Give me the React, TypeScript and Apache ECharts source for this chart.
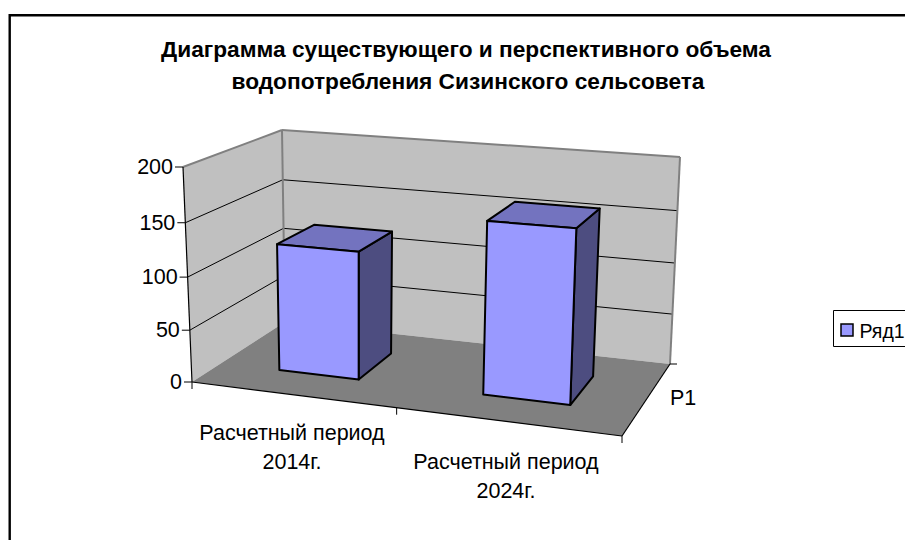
import React, { useEffect, useRef } from "react";
import * as echarts from "echarts";

const categories = ["Расчетный период\n2014г.", "Расчетный период\n2024г."];
const seriesName = "Ряд1";
const depthLabel = "Р1";
const values = [122, 160];
const yTicks = [0, 50, 100, 150, 200];
const titleLines = [
  "Диаграмма существующего и перспективного объема",
  "водопотребления Сизинского сельсовета",
];

type Pt = [number, number];
const FONT = "'Liberation Sans', Arial, sans-serif";

function homography(p0: Pt, p1: Pt, p2: Pt, p3: Pt) {
  const dx1 = p1[0] - p2[0], dx2 = p3[0] - p2[0], sx = p0[0] - p1[0] + p2[0] - p3[0];
  const dy1 = p1[1] - p2[1], dy2 = p3[1] - p2[1], sy = p0[1] - p1[1] + p2[1] - p3[1];
  const den = dx1 * dy2 - dx2 * dy1;
  const g = (sx * dy2 - dx2 * sy) / den;
  const h = (dx1 * sy - sx * dy1) / den;
  const a = p1[0] - p0[0] + g * p1[0], b = p3[0] - p0[0] + h * p3[0];
  const d = p1[1] - p0[1] + g * p1[1], e = p3[1] - p0[1] + h * p3[1];
  return (u: number, v: number): Pt => {
    const q = g * u + h * v + 1;
    return [(a * u + b * v + p0[0]) / q, (d * u + e * v + p0[1]) / q];
  };
}

const floorAt = homography([192, 382], [622, 436], [670, 364], [285, 322]);
const ceilAt = homography([183, 167], [631, 201], [680, 157], [282, 130]);

// u: along the categories, v: depth, w: share of the value axis (0..1)
function project(u: number, v: number, w: number): Pt {
  const f = floorAt(u, v);
  const c = ceilAt(u, v);
  const t = w / (1 + 0.05 * (1 - w));
  return [f[0] + (c[0] - f[0]) * t, f[1] + (c[1] - f[1]) * t];
}

const GRID = { left: 100, top: 100, width: 400, height: 200 };
const BAR_HALF = 0.1;
const BAR_SHIFT = 0.001;
const V0 = 0.29;
const V1 = 0.7;

const poly = (pts: Pt[], fill: string, stroke: string, lw: number) => ({
  type: "polygon",
  shape: { points: pts },
  style: { fill, stroke, lineWidth: lw, lineJoin: "round" },
});
const line = (a: Pt, b: Pt, stroke: string, lw = 1) => ({
  type: "line",
  shape: { x1: a[0], y1: a[1], x2: b[0], y2: b[1] },
  style: { stroke, lineWidth: lw },
});

function App() {
  const ref = useRef<HTMLDivElement>(null);
  useEffect(() => {
    const chart = echarts.init(ref.current!, undefined, { renderer: "svg" });
    const wOf = (v: number) => (v - yTicks[0]) / (yTicks[yTicks.length - 1] - yTicks[0]);

    const textStyle = (text: string, x: number, y: number, align = "center", extra: any = {}) => ({
      type: "text",
      x,
      y,
      style: {
        text,
        fill: "#000",
        font: `21.5px ${FONT}`,
        align,
        verticalAlign: "middle",
        lineHeight: 29,
        ...extra,
      },
    });

    chart.setOption({
      animation: false,
      backgroundColor: "#fff",
      grid: GRID,
      xAxis: { type: "category", data: categories, show: false },
      yAxis: { type: "value", min: 0, max: 200, interval: 50, show: false },
      graphic: [
        {
          type: "rect",
          shape: { x: 9.7, y: 15.3, width: 1000, height: 1000 },
          style: { fill: "none", stroke: "#000", lineWidth: 2.4 },
        },
        {
          type: "rect",
          shape: { x: 833.5, y: 310.5, width: 100, height: 36 },
          style: { fill: "#fff", stroke: "#000", lineWidth: 1 },
        },
        {
          type: "rect",
          shape: { x: 841, y: 324, width: 12, height: 12 },
          style: { fill: "#9999FF", stroke: "#000", lineWidth: 1.5 },
        },
        textStyle(seriesName, 859.5, 331, "left", { font: `19.5px ${FONT}` }),
        textStyle(titleLines[0], 466, 49, "center", { font: `bold 22.7px ${FONT}` }),
        textStyle(titleLines[1], 468, 81, "center", { font: `bold 22.7px ${FONT}` }),
      ],
      series: [
        {
          // walls, floor, gridlines and axis furniture
          type: "custom",
          coordinateSystem: "cartesian2d",
          clip: false,
          silent: true,
          data: [[0, 0]],
          z: 1,
          renderItem: () => {
            const children: any[] = [
              poly([project(0, 0, 0), project(0, 1, 0), project(0, 1, 1), project(0, 0, 1)], "#C0C0C0", "none", 0),
              poly([project(0, 1, 0), project(1, 1, 0), project(1, 1, 1), project(0, 1, 1)], "#C0C0C0", "none", 0),
              poly([project(0, 0, 0), project(1, 0, 0), project(1, 1, 0), project(0, 1, 0)], "#808080", "none", 0),
            ];
            yTicks.slice(1, -1).forEach((t) => {
              const w = wOf(t);
              children.push(line(project(0, 0, w), project(0, 1, w), "#000"));
              children.push(line(project(0, 1, w), project(1, 1, w), "#000"));
            });
            children.push(line(project(0, 0, 1), project(0, 1, 1), "#808080", 2));
            children.push(line(project(0, 1, 1), project(1, 1, 1), "#808080", 2));
            children.push(line(project(0, 1, 0), project(0, 1, 1), "#808080", 2));
            children.push(line(project(1, 1, 0), project(1, 1, 1), "#808080", 2));
            // axes
            children.push(line(project(0, 0, 0), project(0, 0, 1), "#000", 1.2));
            children.push(line(project(0, 0, 0), project(1, 0, 0), "#000", 1.2));
            children.push(line(project(1, 0, 0), project(1, 1, 0), "#000", 1.2));
            yTicks.forEach((t) => {
              const p = project(0, 0, wOf(t));
              children.push(line([p[0] - 8, p[1]], p, "#000"));
              children.push(textStyle(String(t), p[0] - 10, p[1], "right"));
            });
            [0, 0.5, 1].forEach((u) => {
              const p = project(u, 0, 0);
              children.push(line(p, [p[0], p[1] + 7], "#000"));
            });
            const m = project(1, 1, 0);
            children.push(line(m, [m[0] + 7, m[1]], "#000"));
            children.push(textStyle(depthLabel, 670, 398, "left"));
            children.push(textStyle(categories[0], 292, 447.5));
            children.push(textStyle(categories[1], 506, 476));
            return { type: "group", children };
          },
        },
        {
          type: "custom",
          name: seriesName,
          coordinateSystem: "cartesian2d",
          clip: false,
          z: 2,
          data: categories.map((c, i) => [c, values[i]]),
          encode: { x: 0, y: 1 },
          renderItem: (_: any, api: any) => {
            const p = api.coord([api.value(0), api.value(1)]);
            const u = (p[0] - GRID.left) / GRID.width + BAR_SHIFT;
            const w = (GRID.top + GRID.height - p[1]) / GRID.height;
            const u0 = u - BAR_HALF, u1 = u + BAR_HALF;
            return {
              type: "group",
              children: [
                poly([project(u1, V0, 0), project(u1, V1, 0), project(u1, V1, w), project(u1, V0, w)], "#4D4D80", "#000", 2),
                poly([project(u0, V0, w), project(u1, V0, w), project(u1, V1, w), project(u0, V1, w)], "#7373BF", "#000", 2),
                poly([project(u0, V0, 0), project(u1, V0, 0), project(u1, V0, w), project(u0, V0, w)], "#9999FF", "#000", 2),
              ],
            };
          },
        },
      ],
    });
    return () => chart.dispose();
  }, []);
  return <div ref={ref} style={{ position: "fixed", left: 0, top: 0, width: 905, height: 540 }} />;
}

export default App;
